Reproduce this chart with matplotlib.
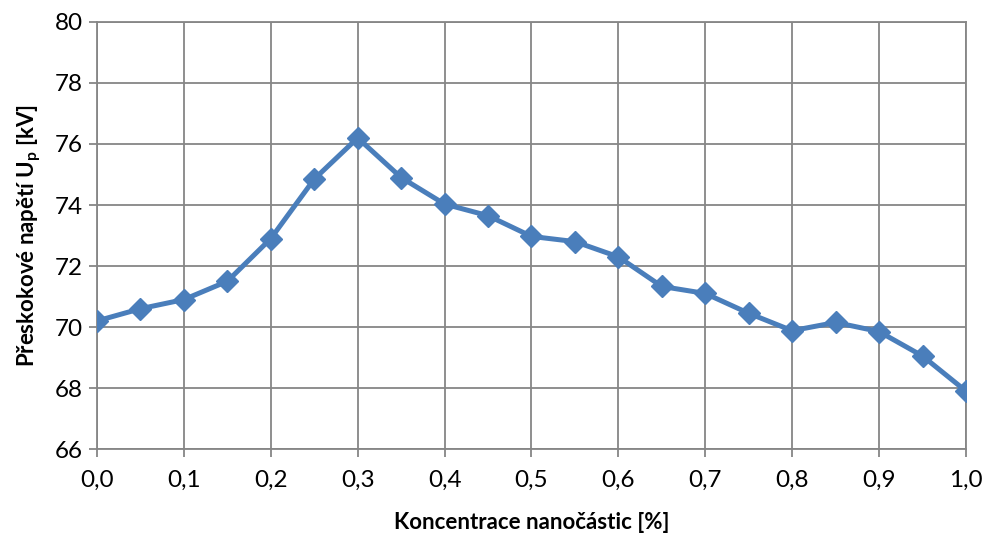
import numpy as np
import matplotlib.pyplot as plt
from matplotlib.ticker import FuncFormatter

plt.rcParams['font.family'] = ['Lato', 'DejaVu Sans']
plt.rcParams['mathtext.fontset'] = 'custom'
plt.rcParams['mathtext.rm'] = 'Lato'
plt.rcParams['mathtext.bf'] = 'Lato:bold'

koncentrace = [0.0, 0.05, 0.1, 0.15, 0.2, 0.25, 0.3, 0.35, 0.4, 0.45, 0.5,
               0.55, 0.6, 0.65, 0.7, 0.75, 0.8, 0.85, 0.9, 0.95, 1.0]
napeti = [70.2, 70.6, 70.9, 71.5, 72.9, 74.85, 76.2, 74.9, 74.03, 73.65, 72.97,
          72.8, 72.3, 71.33, 71.1, 70.45, 69.88, 70.15, 69.85, 69.05, 67.9]

grid_col = '#868686'

fig = plt.figure(figsize=(9.89, 5.35), dpi=100)
ax = fig.add_axes([0.0981, 0.1607, 0.8786, 0.7982])

ax.plot(koncentrace, napeti, color='#4A7EBB', lw=3.6, marker='D', ms=11,
        markeredgecolor='#4A7EBB', zorder=3)

ax.set_xlim(0, 1.0)
ax.set_ylim(66, 80)
ax.set_xticks(np.arange(0, 1.01, 0.1))
ax.set_yticks(np.arange(66, 81, 2))
ax.xaxis.set_major_formatter(FuncFormatter(lambda v, p: f'{v:.1f}'.replace('.', ',')))
ax.grid(True, color=grid_col, lw=1.3)
for s in ax.spines.values():
    s.set_color(grid_col)
    s.set_linewidth(1.3)
ax.tick_params(axis='both', colors=grid_col, length=6, width=1.3,
               labelcolor='black', labelsize=17.5)
ax.tick_params(axis='x', pad=9)
ax.tick_params(axis='y', pad=4)

ax.set_xlabel('Koncentrace nanočástic [%]', fontsize=16, fontweight='bold', labelpad=15)
ax.set_ylabel(r'Přeskokové napětí U$_{\mathbf{p}}$ [kV]', fontsize=16,
              fontweight='bold', labelpad=9)

fig.savefig('out.png', dpi=100)
